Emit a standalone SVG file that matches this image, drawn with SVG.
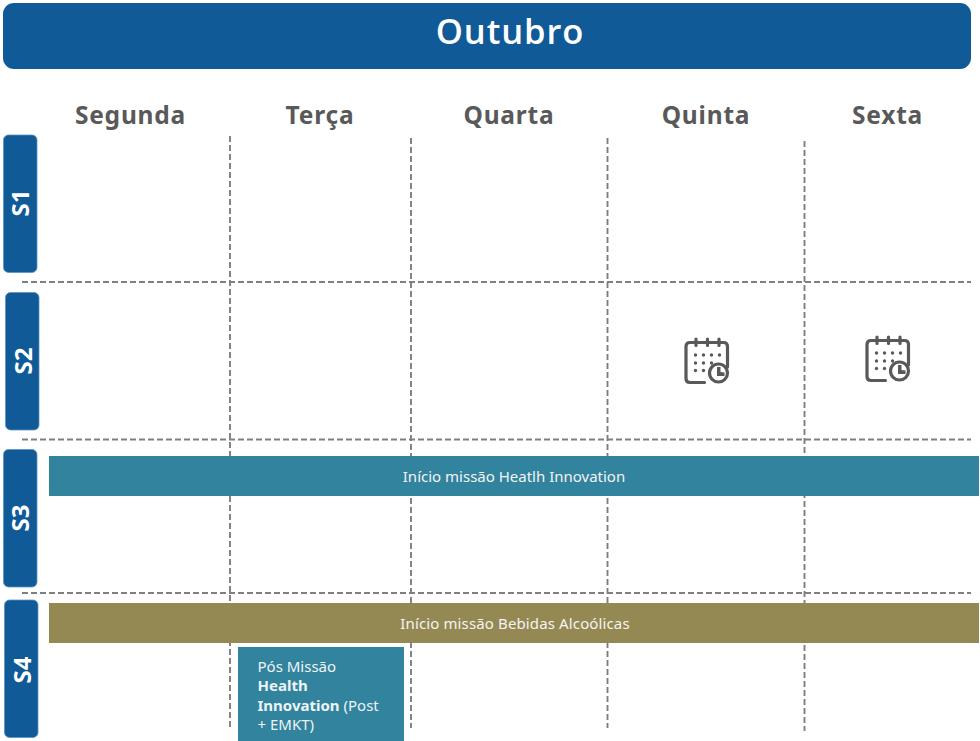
<svg xmlns="http://www.w3.org/2000/svg" width="980" height="741" viewBox="0 0 980 741">
<style>
.day{font:700 24.500px "Noto Sans",sans-serif;fill:#595959;text-anchor:middle;letter-spacing:.8px}
.s{fill:#0f5a97;stroke:#5b93c0;stroke-width:.8}
.sl{font:700 24px "Open Sans",sans-serif;fill:#fff;text-anchor:middle}
.g{stroke:#7f7f7f;stroke-width:1.9;stroke-dasharray:6 3;fill:none}
.bar{font:400 15px "Noto Sans",sans-serif;fill:#f4f4f4;text-anchor:middle}
.t{font:400 15px "Noto Sans",sans-serif;fill:#eef4f6}
.ic{fill:none;stroke:#595959;stroke-width:3.200;stroke-linecap:round;stroke-linejoin:round}
.d{fill:#595959}
</style>
<defs>
<g id="cal">
<path class="ic" d="M19 43.500H4.500Q0.500 43.500 0.500 39.500V7.500Q0.500 3.500 4.500 3.500H38Q42 3.500 42 7.500V28"/>
<path class="ic" d="M10.500 0V6.500M22 0V6.500M33.500 0V6.500"/>
<circle class="d" cx="10" cy="16" r="1.700"/><circle class="d" cx="18" cy="16" r="1.700"/><circle class="d" cx="26" cy="16" r="1.700"/><circle class="d" cx="34" cy="16" r="1.700"/>
<circle class="d" cx="10" cy="24" r="1.700"/><circle class="d" cx="18" cy="24" r="1.700"/><circle class="d" cx="26" cy="24" r="1.700"/>
<circle class="d" cx="10" cy="31.500" r="1.700"/><circle class="d" cx="18" cy="31.500" r="1.700"/>
<circle class="ic" cx="33" cy="34" r="9" style="fill:#fff"/>
<path class="d" d="M31.500 28H35V33L39 33.500V37H31.500Z"/>
</g>
</defs>
<g id="title"><rect x="3" y="3" width="968" height="66" rx="11" fill="#0f5a97"/>
<text x="510" y="43.500" font-family="'Open Sans',sans-serif" font-size="34.500" font-weight="600" fill="#fff" text-anchor="middle" letter-spacing=".9">Outubro</text></g>
<g id="days">
<text class="day" x="130.500" y="123.500">Segunda</text>
<text class="day" x="320" y="123.500">Terça</text>
<text class="day" x="509" y="123.500">Quarta</text>
<text class="day" x="706" y="123.500">Quinta</text>
<text class="day" x="887.500" y="123.500">Sexta</text>
</g>
<g id="connectors">
<path class="g" d="M230 136V730M411 138V728M607.500 138V728M804.500 141V731"/>
<path class="g" d="M22 282H971M22 439.500H971M22 593H971"/>
</g>
<g id="s1"><rect class="s" x="3.500" y="135" width="33.500" height="137.500" rx="5"/><text class="sl" transform="translate(29,203) rotate(-90)">S1</text></g>
<g id="s2"><rect class="s" x="5.500" y="292.500" width="33.500" height="137.500" rx="5"/><text class="sl" transform="translate(31.500,361) rotate(-90)">S2</text></g>
<g id="s3"><rect class="s" x="3.500" y="449.500" width="33.500" height="137.500" rx="5"/><text class="sl" transform="translate(29,518) rotate(-90)">S3</text></g>
<g id="s4"><rect class="s" x="4.500" y="600" width="33.500" height="137.500" rx="5"/><text class="sl" transform="translate(30.500,670) rotate(-90)">S4</text></g>
<g id="cal1"><use href="#cal" x="685.500" y="339"/></g>
<g id="cal2"><use href="#cal" x="866.500" y="337"/></g>
<g id="bar-health"><rect x="49" y="456" width="930" height="40" fill="#32839e"/><text class="bar" x="514" y="482">Início missão Heatlh Innovation</text></g>
<g id="bar-bebidas"><rect x="49" y="603" width="930" height="40" fill="#958953"/><text class="bar" x="515" y="629" style="letter-spacing:.13px">Início missão Bebidas Alcoólicas</text></g>
<g id="pos"><rect x="238" y="647" width="166" height="94" fill="#32839e"/>
<text class="t" x="257.500" y="672">Pós Missão</text>
<text class="t" x="257.500" y="691" style="font-weight:700">Health</text>
<text class="t" x="257.500" y="711"><tspan style="font-weight:700">Innovation</tspan> (Post</text>
<text class="t" x="257.500" y="730">+ EMKT)</text></g>
</svg>
